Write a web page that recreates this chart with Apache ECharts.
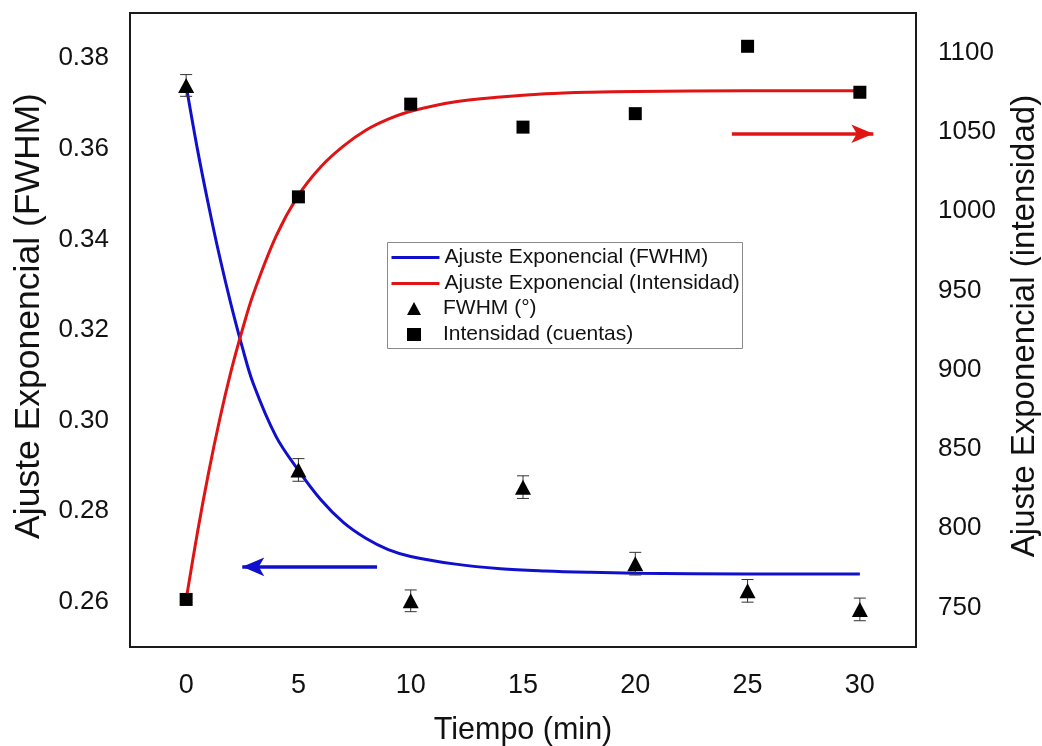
<!DOCTYPE html>
<html>
<head>
<meta charset="utf-8">
<script src="https://cdn.jsdelivr.net/npm/echarts@6/dist/echarts.min.js"></script>
<style>
  html, body { margin: 0; padding: 0; background: #fff; }
  #chart { width: 1042px; height: 746px; }
</style>
</head>
<body>
<div id="chart"></div>
<script>
// Measured points (time in minutes)
const times = [0, 5, 10, 15, 20, 25, 30];
const fwhm = [0.3740, 0.2891, 0.2602, 0.2853, 0.2684, 0.2624, 0.2583];
const fwhmErr = [0.0024, 0.0025, 0.0024, 0.0025, 0.0025, 0.0025, 0.0025];
const intensidad = [755, 1009, 1067.5, 1053, 1061.5, 1104, 1075];

// Exponential fit curves, sampled along time
const fitTimes = [0, 0.5, 1, 1.5, 2, 2.5, 3, 4, 5, 6, 7, 8, 9, 10, 12, 14, 16, 18, 20, 25, 30];
const fwhmFit = [0.3740, 0.3600, 0.3475, 0.3360, 0.3256, 0.3162, 0.3080, 0.2965, 0.2890, 0.2825,
                 0.2775, 0.2740, 0.2715, 0.2700, 0.2683, 0.2673, 0.2668, 0.2665, 0.2663, 0.2661, 0.2661];
const intFit = [755, 797, 835, 869, 899, 925, 948, 984, 1010, 1028,
                1041, 1051, 1058, 1063, 1069, 1072, 1074, 1075, 1075.5, 1076, 1076];

// Tick labels
const xTicks = [0, 5, 10, 15, 20, 25, 30];
const leftTicks = [0.26, 0.28, 0.30, 0.32, 0.34, 0.36, 0.38];
const rightTicks = [750, 800, 850, 900, 950, 1000, 1050, 1100];

// Arrows pointing at the axis each curve belongs to
const arrowFwhm = { from: 8.5, to: 2.5, y: 0.2677 };
const arrowInt = { from: 24.3, to: 30.6, y: 1048.8 };

const FONT = '"Liberation Sans", Arial, Helvetica, sans-serif';
const BLUE = '#1010cc';
const RED = '#e01414';

const near = (v, list) => list.some(t => Math.abs(t - v) < 1e-6);

const legendText = { fontFamily: FONT, fontSize: 21, color: '#111' };

const chart = echarts.init(document.getElementById('chart'), null, { renderer: 'canvas' });

chart.setOption({
  backgroundColor: '#ffffff',
  animation: false,
  grid: {
    left: 130, right: 126, top: 13, bottom: 99,
    outerBoundsMode: 'none',
    show: true, borderColor: '#1a1a1a', borderWidth: 2, backgroundColor: '#ffffff'
  },
  // Frame shared by the two legend blocks
  graphic: [{
    type: 'rect', left: 387, top: 242, z: 10,
    shape: { width: 355, height: 106 },
    style: { fill: '#ffffff', stroke: '#8a8a8a', lineWidth: 1 }
  }],
  legend: [
    {
      // fitted curves
      orient: 'vertical', left: 390, top: 247, padding: 0, z: 11,
      itemWidth: 48, itemHeight: 14, itemGap: 5,
      textStyle: legendText,
      data: [
        { name: 'Ajuste Exponencial (FWHM)', itemStyle: { opacity: 0 }, lineStyle: { width: 3 } },
        { name: 'Ajuste Exponencial (Intensidad)', itemStyle: { opacity: 0 }, lineStyle: { width: 3 } }
      ]
    },
    {
      // measured points
      orient: 'vertical', left: 407, top: 298, padding: 0, z: 11,
      itemWidth: 14, itemHeight: 13, itemGap: 5,
      textStyle: Object.assign({ padding: [0, 0, 0, 17] }, legendText),
      data: [{ name: 'FWHM (°)' }, { name: 'Intensidad (cuentas)' }]
    }
  ],
  xAxis: {
    type: 'value',
    min: -2.5, max: 32.5, interval: 2.5,
    name: 'Tiempo (min)',
    nameLocation: 'middle', nameGap: 68,
    nameTextStyle: { fontFamily: FONT, fontSize: 30.5, color: '#111' },
    axisLine: { show: false }, axisTick: { show: false }, splitLine: { show: false },
    axisLabel: {
      fontFamily: FONT, fontSize: 27, color: '#111', margin: 25,
      formatter: v => near(v, xTicks) ? String(Math.round(v)) : ''
    }
  },
  yAxis: [
    {
      type: 'value', position: 'left',
      min: 0.25, max: 0.39, interval: 0.01,
      name: 'Ajuste Exponencial (FWHM)',
      nameLocation: 'middle', nameGap: 83, nameRotate: 90,
      nameTextStyle: { fontFamily: FONT, fontSize: 35.5, color: '#111', padding: [0, 0, 0, 28] },
      axisLine: { show: false }, axisTick: { show: false }, splitLine: { show: false },
      axisLabel: {
        fontFamily: FONT, fontSize: 26, color: '#111', margin: 21,
        formatter: v => near(v, leftTicks) ? v.toFixed(2) : ''
      }
    },
    {
      type: 'value', position: 'right',
      min: 725, max: 1125, interval: 25,
      name: 'Ajuste Exponencial (intensidad)',
      nameLocation: 'middle', nameGap: 92, nameRotate: 90,
      nameTextStyle: { fontFamily: FONT, fontSize: 33, color: '#111', padding: [0, 0, 0, 8] },
      axisLine: { show: false }, axisTick: { show: false }, splitLine: { show: false },
      axisLabel: {
        fontFamily: FONT, fontSize: 26, color: '#111', margin: 22,
        formatter: v => near(v, rightTicks) ? String(v) : ''
      }
    }
  ],
  series: [
    {
      name: 'Ajuste Exponencial (FWHM)',
      type: 'line', yAxisIndex: 0, z: 2,
      data: fitTimes.map((t, i) => [t, fwhmFit[i]]),
      symbol: 'none', smooth: 0.35,
      lineStyle: { color: BLUE, width: 3 }, itemStyle: { color: BLUE },
      markLine: {
        silent: true, animation: false,
        label: { show: false },
        lineStyle: { color: BLUE, width: 3.5, type: 'solid' },
        data: [[
          { coord: [arrowFwhm.from, arrowFwhm.y], symbol: 'none' },
          { coord: [arrowFwhm.to, arrowFwhm.y], symbol: 'arrow', symbolSize: [14, 22] }
        ]]
      }
    },
    {
      name: 'Ajuste Exponencial (Intensidad)',
      type: 'line', yAxisIndex: 1, z: 2,
      data: fitTimes.map((t, i) => [t, intFit[i]]),
      symbol: 'none', smooth: 0.35,
      lineStyle: { color: RED, width: 3 }, itemStyle: { color: RED },
      markLine: {
        silent: true, animation: false,
        label: { show: false },
        lineStyle: { color: RED, width: 3.5, type: 'solid' },
        data: [[
          { coord: [arrowInt.from, arrowInt.y], symbol: 'none' },
          { coord: [arrowInt.to, arrowInt.y], symbol: 'arrow', symbolSize: [14, 22] }
        ]]
      }
    },
    {
      name: 'errores FWHM',
      type: 'custom', yAxisIndex: 0, z: 3,
      data: times.map((t, i) => [t, fwhm[i], fwhmErr[i]]),
      renderItem: (params, api) => {
        const x = api.value(0), y = api.value(1), e = api.value(2);
        const top = api.coord([x, y + e]);
        const bot = api.coord([x, y - e]);
        const hw = 6;
        const style = { stroke: '#333', lineWidth: 1 };
        return {
          type: 'group',
          children: [
            { type: 'line', shape: { x1: top[0], y1: top[1], x2: bot[0], y2: bot[1] }, style },
            { type: 'line', shape: { x1: top[0] - hw, y1: top[1], x2: top[0] + hw, y2: top[1] }, style },
            { type: 'line', shape: { x1: bot[0] - hw, y1: bot[1], x2: bot[0] + hw, y2: bot[1] }, style }
          ]
        };
      }
    },
    {
      name: 'FWHM (°)',
      type: 'scatter', yAxisIndex: 0, z: 4,
      data: times.map((t, i) => [t, fwhm[i]]),
      symbol: 'triangle', symbolSize: [16, 15],
      itemStyle: { color: '#000', opacity: 1 }
    },
    {
      name: 'Intensidad (cuentas)',
      type: 'scatter', yAxisIndex: 1, z: 4,
      data: times.map((t, i) => [t, intensidad[i]]),
      symbol: 'rect', symbolSize: 13,
      itemStyle: { color: '#000', opacity: 1 }
    }
  ]
});
</script>
</body>
</html>
